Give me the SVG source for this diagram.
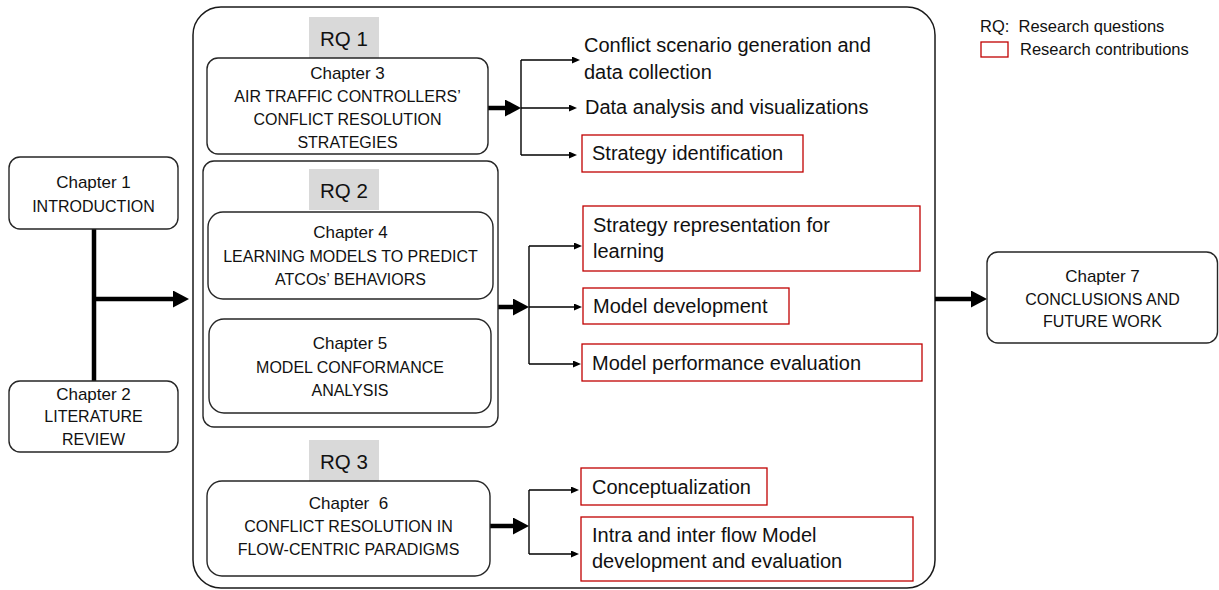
<svg xmlns="http://www.w3.org/2000/svg" width="1219" height="590" viewBox="0 0 1219 590">
  <style>
    .box { fill: #fff; stroke: #262626; stroke-width: 1.4; }
    .frame { fill: none; stroke: #1a1a1a; stroke-width: 1.5; }
    .rq { fill: #d9d9d9; }
    .contrib { fill: #fff; stroke: #c00000; stroke-width: 1.3; }
    .t { font-family: "Liberation Sans", Arial, sans-serif; fill: #111; }
    .ch { font-size: 16px; text-anchor: middle; }
    .cn { font-size: 17px; }
    .rqt { font-size: 20.5px; text-anchor: middle; }
    .item { font-size: 20px; }
    .leg { font-size: 16.5px; }
    .thick { fill: none; stroke: #000; stroke-width: 4.5; }
    .thin { fill: none; stroke: #000; stroke-width: 1.4; }
  </style>
  <defs>
    <marker id="headBig" markerUnits="userSpaceOnUse" markerWidth="16" markerHeight="17" refX="0" refY="8.5" orient="auto">
      <path d="M0,0 L16,8.5 L0,17 z" fill="#000"/>
    </marker>
    <marker id="headSmall" markerUnits="userSpaceOnUse" markerWidth="8" markerHeight="7" refX="0" refY="3.5" orient="auto">
      <path d="M0,0 L8,3.5 L0,7 z" fill="#000"/>
    </marker>
  </defs>

  <rect width="1219" height="590" fill="#fff"/>

  <!-- outer frame holding the research questions -->
  <rect id="frame" class="frame" x="193" y="7" width="742" height="581" rx="28"/>

  <!-- legend -->
  <g id="legend">
    <text class="t leg" x="980" y="32" xml:space="preserve">RQ:  Research questions</text>
    <rect class="contrib" x="981" y="42" width="27" height="15"/>
    <text class="t leg" x="1020" y="55">Research contributions</text>
  </g>

  <!-- connectors -->
  <g id="connectors">
    <path class="thick" d="M94,229 V381" stroke-width="5"/>
    <path class="thick" d="M94,299 H173" stroke-width="5" marker-end="url(#headBig)"/>

    <path class="thick" d="M488,108 H505" marker-end="url(#headBig)"/>
    <path class="thin" d="M521,60 V155"/>
    <path class="thin" d="M521,60 H572" marker-end="url(#headSmall)"/>
    <path class="thin" d="M521,108 H569" marker-end="url(#headSmall)"/>
    <path class="thin" d="M521,155 H569" marker-end="url(#headSmall)"/>

    <path class="thick" d="M498,307 H513" marker-end="url(#headBig)"/>
    <path class="thin" d="M529,246 V364"/>
    <path class="thin" d="M529,246 H574" marker-end="url(#headSmall)"/>
    <path class="thin" d="M529,307 H574" marker-end="url(#headSmall)"/>
    <path class="thin" d="M529,364 H573" marker-end="url(#headSmall)"/>

    <path class="thick" d="M490,526 H513" marker-end="url(#headBig)"/>
    <path class="thin" d="M529,490 V554"/>
    <path class="thin" d="M529,490 H571" marker-end="url(#headSmall)"/>
    <path class="thin" d="M529,554 H571" marker-end="url(#headSmall)"/>

    <path class="thick" d="M935,299 H971" marker-end="url(#headBig)"/>
  </g>

  <g id="ch1">
    <rect class="box" x="9" y="157" width="169" height="72" rx="11"/>
    <text class="t ch cn" x="93.5" y="188">Chapter 1</text>
    <text class="t ch" x="93.5" y="212">INTRODUCTION</text>
  </g>

  <g id="ch2">
    <rect class="box" x="9" y="381" width="169" height="71" rx="11"/>
    <text class="t ch cn" x="93.5" y="400">Chapter 2</text>
    <text class="t ch" x="93.5" y="422">LITERATURE</text>
    <text class="t ch" x="93.5" y="445">REVIEW</text>
  </g>

  <g id="rq1">
    <rect class="rq" x="309" y="17" width="70" height="41"/>
    <text class="t rqt" x="344" y="46">RQ 1</text>
  </g>

  <g id="ch3">
    <rect class="box" x="207" y="58" width="281" height="96" rx="11"/>
    <text class="t ch cn" x="347.5" y="79">Chapter 3</text>
    <text class="t ch" x="347.5" y="102">AIR TRAFFIC CONTROLLERS’</text>
    <text class="t ch" x="347.5" y="125">CONFLICT RESOLUTION</text>
    <text class="t ch" x="347.5" y="148">STRATEGIES</text>
  </g>

  <g id="rq2">
    <rect class="box" x="203" y="161" width="295" height="266" rx="11"/>
    <rect class="rq" x="309" y="169" width="70" height="41"/>
    <text class="t rqt" x="344" y="198">RQ 2</text>
  </g>

  <g id="ch4">
    <rect class="box" x="208" y="212" width="285" height="87" rx="15"/>
    <text class="t ch cn" x="350.5" y="238">Chapter 4</text>
    <text class="t ch" x="350.5" y="262">LEARNING MODELS TO PREDICT</text>
    <text class="t ch" x="350.5" y="285">ATCOs’ BEHAVIORS</text>
  </g>

  <g id="ch5">
    <rect class="box" x="209" y="319" width="282" height="94" rx="15"/>
    <text class="t ch cn" x="350" y="349">Chapter 5</text>
    <text class="t ch" x="350" y="373">MODEL CONFORMANCE</text>
    <text class="t ch" x="350" y="396">ANALYSIS</text>
  </g>

  <g id="rq3">
    <rect class="rq" x="309" y="440" width="70" height="41"/>
    <text class="t rqt" x="344" y="469">RQ 3</text>
  </g>

  <g id="ch6">
    <rect class="box" x="207" y="481" width="283" height="95" rx="15"/>
    <text class="t ch cn" x="348.5" y="509" xml:space="preserve">Chapter  6</text>
    <text class="t ch" x="348.5" y="532">CONFLICT RESOLUTION IN</text>
    <text class="t ch" x="348.5" y="555">FLOW-CENTRIC PARADIGMS</text>
  </g>

  <g id="ch7">
    <rect class="box" x="987" y="252" width="230.5" height="91" rx="11"/>
    <text class="t ch cn" x="1102.5" y="282">Chapter 7</text>
    <text class="t ch" x="1102.5" y="305">CONCLUSIONS AND</text>
    <text class="t ch" x="1102.5" y="327">FUTURE WORK</text>
  </g>

  <!-- RQ 1 outcomes -->
  <g id="scenario">
    <text class="t item" x="584" y="52">Conflict scenario generation and</text>
    <text class="t item" x="584" y="79">data collection</text>
  </g>
  <g id="analysis">
    <text class="t item" x="585" y="114">Data analysis and visualizations</text>
  </g>
  <g id="strategy-id">
    <rect class="contrib" x="582" y="135" width="221" height="37"/>
    <text class="t item" x="592" y="160">Strategy identification</text>
  </g>

  <!-- RQ 2 outcomes -->
  <g id="representation">
    <rect class="contrib" x="583" y="206" width="337" height="65"/>
    <text class="t item" x="593" y="232">Strategy representation for</text>
    <text class="t item" x="593" y="258">learning</text>
  </g>
  <g id="model-dev">
    <rect class="contrib" x="583" y="288" width="206" height="36"/>
    <text class="t item" x="593" y="313">Model development</text>
  </g>
  <g id="model-eval">
    <rect class="contrib" x="582" y="344" width="340" height="37"/>
    <text class="t item" x="592" y="370">Model performance evaluation</text>
  </g>

  <!-- RQ 3 outcomes -->
  <g id="concept">
    <rect class="contrib" x="581" y="468" width="186" height="37"/>
    <text class="t item" x="592" y="494">Conceptualization</text>
  </g>
  <g id="flow-model">
    <rect class="contrib" x="581" y="517" width="332" height="64"/>
    <text class="t item" x="592" y="542">Intra and inter flow Model</text>
    <text class="t item" x="592" y="568">development and evaluation</text>
  </g>
</svg>
